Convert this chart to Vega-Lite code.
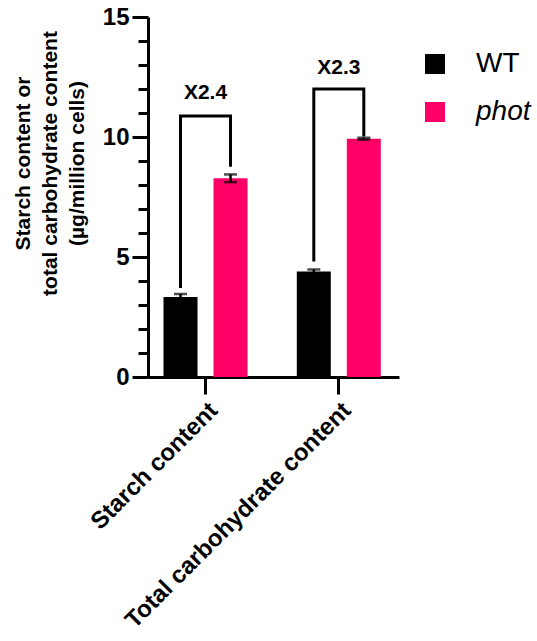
{
  "$schema": "https://vega.github.io/schema/vega-lite/v6.json",
  "autosize": "none",
  "padding": {"left": 148, "top": 17, "right": 138, "bottom": 264},
  "width": 251,
  "height": 360,
  "background": "white",
  "config": {
    "view": {"stroke": null},
    "font": "Liberation Sans"
  },
  "datasets": {
    "bars": [
      {"group": "Starch content", "genotype": "WT", "value": 3.33, "low": 3.2, "high": 3.46},
      {"group": "Starch content", "genotype": "phot", "value": 8.28, "low": 8.12, "high": 8.44},
      {"group": "Total carbohydrate content", "genotype": "WT", "value": 4.4, "low": 4.32, "high": 4.48},
      {"group": "Total carbohydrate content", "genotype": "phot", "value": 9.93, "low": 9.89, "high": 9.97}
    ],
    "brackets": [
      {"group": "Starch content", "genotype": "WT", "y": 3.71, "order": 1},
      {"group": "Starch content", "genotype": "WT", "y": 10.88, "order": 2},
      {"group": "Starch content", "genotype": "phot", "y": 10.88, "order": 3},
      {"group": "Starch content", "genotype": "phot", "y": 8.76, "order": 4},
      {"group": "Total carbohydrate content", "genotype": "WT", "y": 4.81, "order": 1},
      {"group": "Total carbohydrate content", "genotype": "WT", "y": 12.0, "order": 2},
      {"group": "Total carbohydrate content", "genotype": "phot", "y": 12.0, "order": 3},
      {"group": "Total carbohydrate content", "genotype": "phot", "y": 10.02, "order": 4}
    ],
    "labels": [
      {"group": "Starch content", "y": 11.57, "text": "X2.4"},
      {"group": "Total carbohydrate content", "y": 12.62, "text": "X2.3"}
    ]
  },
  "encoding": {
    "x": {
      "field": "group",
      "type": "nominal",
      "sort": ["Starch content", "Total carbohydrate content"],
      "scale": {"paddingInner": 0.3, "paddingOuter": 0.0915, "align": 0.445},
      "axis": {
        "title": null,
        "labelAngle": -45,
        "labelFontSize": 24,
        "labelFontWeight": "bold",
        "labelColor": "black",
        "labelPadding": 4,
        "labelLimit": 0,
        "tickSize": 17,
        "tickWidth": 3,
        "tickColor": "black",
        "domainWidth": 3,
        "domainColor": "black"
      }
    }
  },
  "layer": [
    {
      "data": {"name": "bars"},
      "mark": {"type": "bar"},
      "encoding": {
        "xOffset": {"field": "genotype", "type": "nominal", "sort": ["WT", "phot"], "scale": {"paddingInner": 0.32, "paddingOuter": 0.093}},
        "y": {
          "field": "value",
          "type": "quantitative",
          "scale": {"domain": [0, 15], "nice": false},
          "axis": {
            "title": ["Starch content or", "total carbohydrate content", "(µg/million cells)"],
            "titleFontSize": 21, "titleFontWeight": "bold", "titleColor": "black", "titleLineHeight": 27,
            "titleBaseline": "middle", "titleX": -125, "titleY": 146,
            "values": [0, 1, 2, 3, 4, 5, 6, 7, 8, 9, 10, 11, 12, 13, 14, 15],
            "labelExpr": "datum.value % 5 === 0 ? datum.label : ''",
            "labelOverlap": false, "labelFontSize": 24, "labelFontWeight": "bold", "labelColor": "black", "labelPadding": 3,
            "tickSize": {"condition": {"test": "datum.value % 5 === 0", "value": 16}, "value": 10},
            "tickWidth": 3, "tickColor": "black", "domainWidth": 3, "domainColor": "black", "grid": false
          }
        },
        "color": {
          "field": "genotype",
          "type": "nominal",
          "scale": {"domain": ["WT", "phot"], "range": ["#000000", "#FF0066"]},
          "legend": {
            "title": null,
            "orient": "none",
            "legendX": 273,
            "legendY": 33,
            "symbolType": "square",
            "symbolSize": 400,
            "symbolStrokeWidth": 0,
            "symbolOpacity": 1,
            "labelFontSize": 28,
            "labelColor": "black",
            "labelOffset": 27,
            "rowPadding": 20,
            "padding": 0,
            "encode": {
              "labels": {"update": {"fontStyle": {"signal": "datum.label === 'phot' ? 'italic' : 'normal'"}}}
            }
          }
        }
      }
    },
    {
      "data": {"name": "bars"},
      "mark": {"type": "rule", "color": "black", "strokeWidth": 2.5},
      "encoding": {
        "xOffset": {"field": "genotype", "type": "nominal", "sort": ["WT", "phot"]},
        "y": {
          "field": "low", "type": "quantitative",
          "axis": {
            "title": ["Starch content or", "total carbohydrate content", "(µg/million cells)"],
            "titleFontSize": 21, "titleFontWeight": "bold", "titleColor": "black", "titleLineHeight": 27,
            "titleBaseline": "middle", "titleX": -125, "titleY": 146,
            "values": [0, 1, 2, 3, 4, 5, 6, 7, 8, 9, 10, 11, 12, 13, 14, 15],
            "labelExpr": "datum.value % 5 === 0 ? datum.label : ''",
            "labelOverlap": false, "labelFontSize": 24, "labelFontWeight": "bold", "labelColor": "black", "labelPadding": 3,
            "tickSize": {"condition": {"test": "datum.value % 5 === 0", "value": 16}, "value": 10},
            "tickWidth": 3, "tickColor": "black", "domainWidth": 3, "domainColor": "black", "grid": false
          }
        },
        "y2": {"field": "high"}
      }
    },
    {
      "data": {"name": "bars"},
      "mark": {"type": "tick", "color": "black", "thickness": 2.5, "size": 13, "orient": "horizontal"},
      "encoding": {
        "xOffset": {"field": "genotype", "type": "nominal", "sort": ["WT", "phot"]},
        "y": {
          "field": "high", "type": "quantitative",
          "axis": {
            "title": ["Starch content or", "total carbohydrate content", "(µg/million cells)"],
            "titleFontSize": 21, "titleFontWeight": "bold", "titleColor": "black", "titleLineHeight": 27,
            "titleBaseline": "middle", "titleX": -125, "titleY": 146,
            "values": [0, 1, 2, 3, 4, 5, 6, 7, 8, 9, 10, 11, 12, 13, 14, 15],
            "labelExpr": "datum.value % 5 === 0 ? datum.label : ''",
            "labelOverlap": false, "labelFontSize": 24, "labelFontWeight": "bold", "labelColor": "black", "labelPadding": 3,
            "tickSize": {"condition": {"test": "datum.value % 5 === 0", "value": 16}, "value": 10},
            "tickWidth": 3, "tickColor": "black", "domainWidth": 3, "domainColor": "black", "grid": false
          }
        }
      }
    },
    {
      "data": {"name": "bars"},
      "mark": {"type": "tick", "color": "black", "thickness": 2.5, "size": 13, "orient": "horizontal"},
      "encoding": {
        "xOffset": {"field": "genotype", "type": "nominal", "sort": ["WT", "phot"]},
        "y": {
          "field": "low", "type": "quantitative",
          "axis": {
            "title": ["Starch content or", "total carbohydrate content", "(µg/million cells)"],
            "titleFontSize": 21, "titleFontWeight": "bold", "titleColor": "black", "titleLineHeight": 27,
            "titleBaseline": "middle", "titleX": -125, "titleY": 146,
            "values": [0, 1, 2, 3, 4, 5, 6, 7, 8, 9, 10, 11, 12, 13, 14, 15],
            "labelExpr": "datum.value % 5 === 0 ? datum.label : ''",
            "labelOverlap": false, "labelFontSize": 24, "labelFontWeight": "bold", "labelColor": "black", "labelPadding": 3,
            "tickSize": {"condition": {"test": "datum.value % 5 === 0", "value": 16}, "value": 10},
            "tickWidth": 3, "tickColor": "black", "domainWidth": 3, "domainColor": "black", "grid": false
          }
        }
      }
    },
    {
      "data": {"name": "brackets"},
      "mark": {"type": "line", "color": "black", "strokeWidth": 3, "strokeJoin": "miter", "strokeCap": "butt"},
      "encoding": {
        "xOffset": {"field": "genotype", "type": "nominal", "sort": ["WT", "phot"]},
        "y": {
          "field": "y", "type": "quantitative",
          "axis": {
            "title": ["Starch content or", "total carbohydrate content", "(µg/million cells)"],
            "titleFontSize": 21, "titleFontWeight": "bold", "titleColor": "black", "titleLineHeight": 27,
            "titleBaseline": "middle", "titleX": -125, "titleY": 146,
            "values": [0, 1, 2, 3, 4, 5, 6, 7, 8, 9, 10, 11, 12, 13, 14, 15],
            "labelExpr": "datum.value % 5 === 0 ? datum.label : ''",
            "labelOverlap": false, "labelFontSize": 24, "labelFontWeight": "bold", "labelColor": "black", "labelPadding": 3,
            "tickSize": {"condition": {"test": "datum.value % 5 === 0", "value": 16}, "value": 10},
            "tickWidth": 3, "tickColor": "black", "domainWidth": 3, "domainColor": "black", "grid": false
          }
        },
        "detail": {"field": "group"},
        "order": {"field": "order", "type": "quantitative"}
      }
    },
    {
      "data": {"name": "labels"},
      "mark": {"type": "text", "fontSize": 21, "fontWeight": "bold", "color": "black", "baseline": "alphabetic", "align": "center"},
      "encoding": {
        "y": {
          "field": "y", "type": "quantitative",
          "axis": {
            "title": ["Starch content or", "total carbohydrate content", "(µg/million cells)"],
            "titleFontSize": 21, "titleFontWeight": "bold", "titleColor": "black", "titleLineHeight": 27,
            "titleBaseline": "middle", "titleX": -125, "titleY": 146,
            "values": [0, 1, 2, 3, 4, 5, 6, 7, 8, 9, 10, 11, 12, 13, 14, 15],
            "labelExpr": "datum.value % 5 === 0 ? datum.label : ''",
            "labelOverlap": false, "labelFontSize": 24, "labelFontWeight": "bold", "labelColor": "black", "labelPadding": 3,
            "tickSize": {"condition": {"test": "datum.value % 5 === 0", "value": 16}, "value": 10},
            "tickWidth": 3, "tickColor": "black", "domainWidth": 3, "domainColor": "black", "grid": false
          }
        },
        "text": {"field": "text"}
      }
    }
  ]
}
